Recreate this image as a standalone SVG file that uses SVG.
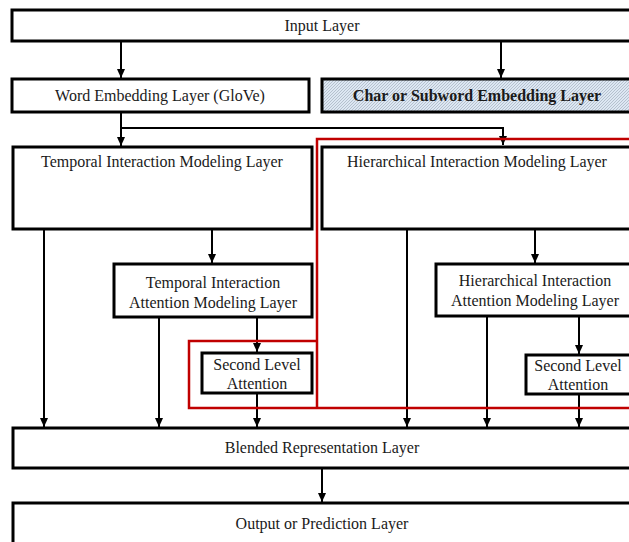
<svg xmlns="http://www.w3.org/2000/svg" width="629" height="542" viewBox="0 0 629 542">
<defs>
<style>
.box{fill:#fff;stroke:#000;stroke-width:3}
.t{font-family:"Liberation Serif","Times New Roman",serif;font-size:16px;fill:#1a1a1a;text-anchor:middle}
.b{font-weight:bold}
.c{fill:none;stroke:#000;stroke-width:2}
.red{fill:none;stroke:#c00000;stroke-width:2.5}
</style>
<pattern id="hatch" patternUnits="userSpaceOnUse" width="3" height="3">
<rect width="3" height="3" fill="#dde7f3"/>
<path d="M-1,1 L1,-1 M0,3 L3,0 M2,4 L4,2" stroke="#9ba7b6" stroke-width="0.6"/>
</pattern>
<marker id="ah" markerUnits="userSpaceOnUse" markerWidth="10" markerHeight="8" refX="9" refY="4" orient="auto">
<path d="M0,0 L9,4 L0,8 Z" fill="#000"/>
</marker>
</defs>
<g id="connectors">
<line class="c" x1="121" y1="41" x2="121" y2="78" marker-end="url(#ah)"/>
<line class="c" x1="501" y1="41" x2="501" y2="78" marker-end="url(#ah)"/>
<line class="c" x1="121" y1="112" x2="121" y2="146" marker-end="url(#ah)"/>
<polyline class="c" points="121,128 503,128 503,145" marker-end="url(#ah)"/>
<line class="c" x1="44" y1="229" x2="44" y2="427" marker-end="url(#ah)"/>
<line class="c" x1="212" y1="229" x2="212" y2="263" marker-end="url(#ah)"/>
<line class="c" x1="159" y1="317" x2="159" y2="427" marker-end="url(#ah)"/>
<line class="c" x1="257" y1="317" x2="257" y2="352" marker-end="url(#ah)"/>
<line class="c" x1="257" y1="393" x2="257" y2="427" marker-end="url(#ah)"/>
<line class="c" x1="407" y1="229" x2="407" y2="427" marker-end="url(#ah)"/>
<line class="c" x1="535" y1="229" x2="535" y2="263" marker-end="url(#ah)"/>
<line class="c" x1="487" y1="316" x2="487" y2="427" marker-end="url(#ah)"/>
<line class="c" x1="579" y1="316" x2="579" y2="354" marker-end="url(#ah)"/>
<line class="c" x1="579" y1="394" x2="579" y2="427" marker-end="url(#ah)"/>
<line class="c" x1="322" y1="468" x2="322" y2="502" marker-end="url(#ah)"/>
</g>
<g id="input"><rect class="box" x="12" y="10" width="640" height="31"/><text class="t" x="322" y="31">Input Layer</text></g>
<g id="word"><rect class="box" x="12" y="79" width="297" height="33"/><text class="t" x="160" y="101">Word Embedding Layer (GloVe)</text></g>
<g id="char"><rect class="box" x="322" y="79" width="320" height="33" style="fill:url(#hatch)"/><text class="t b" x="477" y="101">Char or Subword Embedding Layer</text></g>
<g id="temporal"><rect class="box" x="13" y="147" width="299" height="82"/><text class="t" x="162" y="167">Temporal Interaction Modeling Layer</text></g>
<g id="hier"><rect class="box" x="322" y="147" width="320" height="82"/><text class="t" x="477" y="167">Hierarchical Interaction Modeling Layer</text></g>
<g id="tattn"><rect class="box" x="114" y="264" width="198" height="53"/><text class="t" x="213" y="288">Temporal Interaction</text><text class="t" x="213" y="308">Attention Modeling Layer</text></g>
<g id="sla1"><rect class="box" x="202" y="353" width="110" height="40"/><text class="t" x="257" y="370">Second Level</text><text class="t" x="257" y="389">Attention</text></g>
<g id="hattn"><rect class="box" x="436" y="264" width="210" height="52"/><text class="t" x="535" y="286">Hierarchical Interaction</text><text class="t" x="535" y="306">Attention Modeling Layer</text></g>
<g id="sla2"><rect class="box" x="526" y="355" width="110" height="39"/><text class="t" x="578" y="371">Second Level</text><text class="t" x="578" y="390">Attention</text></g>
<g id="blended"><rect class="box" x="13" y="428" width="640" height="40"/><text class="t" x="322" y="453">Blended Representation Layer</text></g>
<g id="output"><rect class="box" x="13" y="503" width="640" height="60"/><text class="t" x="322" y="529">Output or Prediction Layer</text></g>
<g id="highlight"><path class="red" d="M640,139 H317 V408 M317,341 H189 V408 H640"/></g>
</svg>
